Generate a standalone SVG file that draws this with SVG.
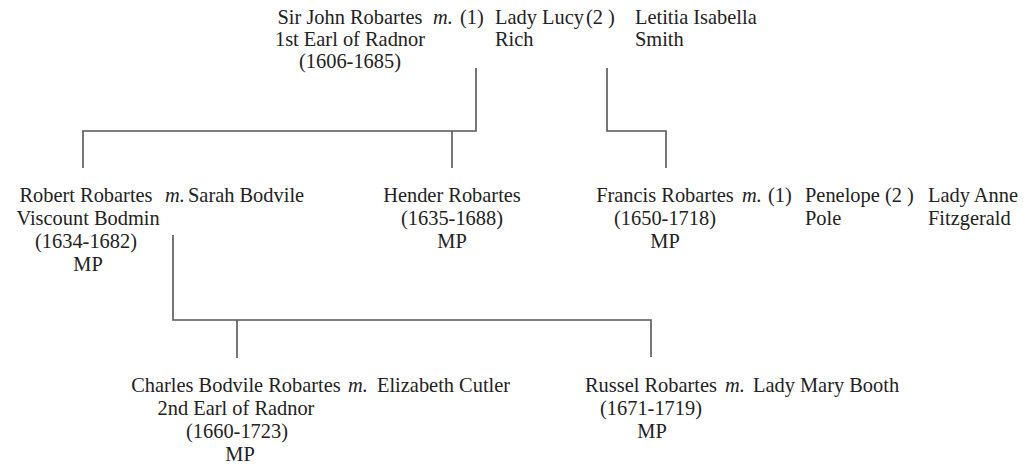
<svg xmlns="http://www.w3.org/2000/svg" width="1025" height="466" viewBox="0 0 1025 466">
<style>
text{font-family:'Liberation Serif','DejaVu Serif',serif;font-size:20.4px;fill:#222}
.c{text-anchor:middle}
.m{font-style:italic}
.ln{fill:none;stroke:#555;stroke-width:1.6}
</style>
<rect width="1025" height="466" fill="#fff"/>
<g id="connectors">
<path class="ln" d="M476,68V131H83V168M452,131V168"/>
<path class="ln" d="M607,68V131H666V168"/>
<path class="ln" d="M173,235V320H651V357M237,320V358"/>
</g>
<g id="john">
<text class="c" x="350" y="24">Sir John Robartes</text>
<text class="c" x="350" y="46">1st Earl of Radnor</text>
<text class="c" x="350" y="68">(1606-1685)</text>
<text class="m" x="433" y="24">m.</text>
<text x="460" y="24">(1)</text>
</g>
<g id="lucy">
<text x="495" y="24">Lady Lucy</text>
<text x="495" y="46">Rich</text>
<text x="586" y="24">(2 )</text>
</g>
<g id="letitia">
<text x="635" y="24">Letitia Isabella</text>
<text x="635" y="46">Smith</text>
</g>
<g id="robert">
<text class="c" x="86" y="202">Robert Robartes</text>
<text class="c" x="88" y="225">Viscount Bodmin</text>
<text class="c" x="86" y="248">(1634-1682)</text>
<text class="c" x="88" y="271">MP</text>
<text class="m" x="165" y="202">m.</text>
</g>
<g id="sarah">
<text x="188" y="202">Sarah Bodvile</text>
</g>
<g id="hender">
<text class="c" x="452" y="202">Hender Robartes</text>
<text class="c" x="452" y="225">(1635-1688)</text>
<text class="c" x="452" y="248">MP</text>
</g>
<g id="francis">
<text class="c" x="665" y="202">Francis Robartes</text>
<text class="c" x="665" y="225">(1650-1718)</text>
<text class="c" x="665" y="248">MP</text>
<text class="m" x="742" y="202">m.</text>
<text x="768" y="202">(1)</text>
</g>
<g id="penelope">
<text x="805" y="202">Penelope</text>
<text x="805" y="225">Pole</text>
<text x="885" y="202">(2 )</text>
</g>
<g id="anne">
<text x="928" y="202">Lady Anne</text>
<text x="928" y="225">Fitzgerald</text>
</g>
<g id="charles">
<text class="c" x="236" y="392">Charles Bodvile Robartes</text>
<text class="c" x="236" y="415">2nd Earl of Radnor</text>
<text class="c" x="237" y="438">(1660-1723)</text>
<text class="c" x="240" y="461">MP</text>
<text class="m" x="348" y="392">m.</text>
</g>
<g id="elizabeth">
<text x="377" y="392">Elizabeth Cutler</text>
</g>
<g id="russel">
<text class="c" x="651" y="392">Russel Robartes</text>
<text class="c" x="651" y="415">(1671-1719)</text>
<text class="c" x="652" y="438">MP</text>
<text class="m" x="725" y="392">m.</text>
</g>
<g id="mary">
<text x="753" y="392">Lady Mary Booth</text>
</g>
</svg>
